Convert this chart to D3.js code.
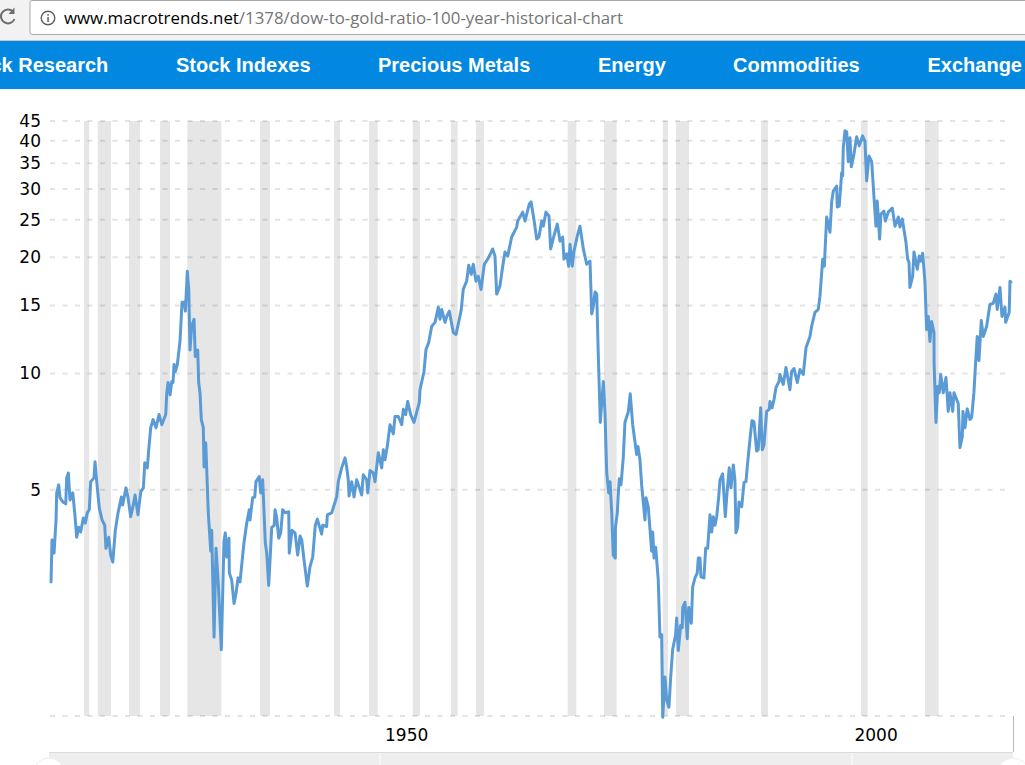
<!DOCTYPE html>
<html>
<head>
<meta charset="utf-8">
<title>Dow to Gold Ratio</title>
<script src="https://cdnjs.cloudflare.com/ajax/libs/d3/7.8.5/d3.min.js"></script>
<style>
  html, body { margin: 0; padding: 0; background: #fff; overflow: hidden; }
  svg { display: block; }
  .tick text { font-family: "DejaVu Sans", sans-serif; font-size: 17px; fill: #000; }
</style>
</head>
<body>
<div class="canva"></div>
<script>
// values
const years = [
  1915.04,1915.15,1915.25,1915.47,1915.68,1915.75,1915.96,1916.10,1916.42,1916.71,1916.81,1916.98,1917.16,1917.45,1917.66,1917.87,1918.08,1918.29,1918.57,1918.78,
  1918.99,1919.20,1919.35,1919.70,1919.81,1919.99,1920.26,1920.55,1920.84,1920.97,1921.26,1921.47,1921.69,1921.96,1922.25,1922.60,1922.74,1923.09,1923.31,1923.59,
  1923.80,1924.05,1924.36,1924.65,1924.93,1925.08,1925.35,1925.50,1925.71,1925.96,1926.27,1926.59,1926.88,1927.30,1927.41,1927.55,1927.76,1927.94,1928.07,1928.18,
  1928.32,1928.53,1928.81,1929.03,1929.27,1929.38,1929.59,1929.74,1929.87,1930.05,1930.30,1930.43,1930.69,1930.79,1930.93,1931.07,1931.28,1931.36,1931.54,1931.81,
  1932.07,1932.17,1932.42,1932.63,1932.87,1933.19,1933.47,1933.61,1933.76,1934.00,1934.04,1934.29,1934.54,1934.75,1934.96,1935.17,1935.59,1935.88,1936.15,1936.23,
  1936.51,1936.73,1936.86,1937.21,1937.36,1937.57,1937.85,1938.00,1938.21,1938.53,1938.80,1938.88,1939.06,1939.27,1939.48,1939.69,1939.97,1940.33,1940.39,1940.68,
  1941.00,1941.28,1941.53,1941.71,1941.95,1942.30,1942.58,1942.87,1943.15,1943.36,1943.82,1943.93,1944.35,1944.42,1944.88,1945.41,1945.58,1945.94,1946.29,1946.47,
  1946.64,1946.72,1947.00,1947.25,1947.53,1947.78,1948.06,1948.23,1948.59,1948.70,1948.94,1949.29,1949.47,1949.82,1950.18,1950.35,1950.53,1950.77,1951.06,1951.41,
  1951.59,1951.94,1952.30,1952.47,1952.72,1952.93,1953.25,1953.60,1954.16,1954.24,1954.66,1954.87,1955.16,1955.48,1955.83,1956.18,1956.36,1956.54,1956.89,1957.07,
  1957.34,1957.77,1958.05,1958.40,1958.61,1958.82,1959.18,1959.40,1959.67,1959.88,1960.17,1960.41,1960.70,1961.05,1961.41,1961.73,1961.94,1962.18,1962.36,1962.71,
  1963.00,1963.24,1963.53,1963.95,1964.48,1964.59,1965.12,1965.36,1965.82,1966.00,1966.35,1966.60,1966.84,1967.13,1967.30,1967.58,1967.90,1968.08,1968.36,1968.78,
  1969.07,1969.35,1969.49,1969.78,1969.99,1970.13,1970.37,1970.55,1970.90,1971.19,1971.54,1971.90,1972.25,1972.43,1972.60,1972.78,1972.96,1973.13,1973.34,1973.66,
  1973.83,1974.02,1974.23,1974.37,1974.55,1974.71,1974.93,1974.94,1975.14,1975.25,1975.35,1975.53,1975.77,1975.95,1976.30,1976.51,1976.77,1977.19,1977.33,1977.54,
  1977.72,1978.07,1978.18,1978.42,1978.78,1978.89,1979.03,1979.21,1979.48,1979.66,1979.84,1979.95,1980.19,1980.37,1980.61,1980.79,1981.00,1981.32,1981.43,1981.60,
  1981.85,1982.02,1982.07,1982.31,1982.55,1982.70,1982.98,1983.12,1983.37,1983.61,1983.72,1983.90,1984.00,1984.32,1984.50,1984.71,1984.96,1985.14,1985.31,1985.49,
  1985.67,1985.88,1986.02,1986.30,1986.58,1986.79,1987.00,1987.18,1987.43,1987.60,1987.71,1987.89,1988.03,1988.32,1988.56,1988.77,1988.95,1989.19,1989.41,1989.62,
  1989.90,1990.07,1990.33,1990.50,1990.68,1990.96,1991.24,1991.31,1991.53,1991.74,1991.95,1992.27,1992.37,1992.72,1993.01,1993.43,1993.61,1993.86,1994.21,1994.49,
  1994.84,1995.13,1995.55,1995.73,1996.08,1996.43,1996.61,1996.90,1997.07,1997.32,1997.67,1997.85,1998.02,1998.38,1998.44,1998.65,1998.91,1999.01,1999.08,1999.26,
  1999.44,1999.61,1999.79,1999.93,2000.21,2000.50,2000.77,2001.13,2001.38,2001.56,2001.80,2002.09,2002.36,2002.54,2002.68,2002.93,2003.07,2003.39,2003.53,2003.85,
  2004.27,2004.56,2004.91,2005.08,2005.33,2005.72,2005.90,2006.04,2006.14,2006.43,2006.57,2006.92,2007.13,2007.28,2007.49,2007.73,2007.91,2008.08,2008.26,2008.44,
  2008.69,2008.70,2008.90,2009.08,2009.25,2009.40,2009.67,2009.96,2010.20,2010.38,2010.67,2010.81,2011.26,2011.44,2011.69,2011.76,2011.97,2012.21,2012.50,2012.68,
  2012.92,2013.10,2013.27,2013.45,2013.70,2013.91,2014.27,2014.62,2014.97,2015.25,2015.39,2015.68,2015.89,2016.21,2016.28,2016.66,2016.74,2016.91
]

const ratios = [
  2.90,2.89,3.71,3.43,4.18,4.91,5.15,4.77,4.65,4.60,5.37,5.53,4.71,4.91,4.36,3.77,4.00,3.89,4.23,4.10,
  4.36,4.44,5.25,5.37,5.91,5.25,4.49,4.18,4.05,3.53,3.77,3.39,3.25,3.93,4.36,4.79,4.57,5.06,4.77,4.26,
  4.49,4.85,4.31,4.94,5.06,5.88,5.70,6.35,7.24,7.60,7.24,7.83,7.37,7.83,8.92,9.48,8.81,9.54,9.48,10.55,
  10.12,10.55,12.10,15.29,15.29,14.50,18.38,16.50,11.50,13.25,13.81,11.07,11.50,9.48,8.92,7.60,7.24,5.73,6.62,4.36,
  3.47,3.93,2.08,3.53,2.87,1.93,3.67,3.87,3.35,3.75,3.05,2.92,2.54,2.70,2.96,2.89,3.65,4.10,4.44,4.18,
  4.77,4.79,5.25,5.41,4.91,5.31,3.65,3.43,2.83,4.00,4.05,4.44,4.23,3.75,3.87,4.44,4.36,4.39,3.43,3.93,
  3.87,3.39,3.80,3.71,3.29,2.82,3.16,3.35,4.05,4.20,3.84,4.05,4.02,4.31,4.36,4.79,5.25,5.70,6.05,5.73,
  5.31,4.82,5.25,4.79,5.31,5.09,4.85,5.47,5.31,4.91,5.61,5.53,5.25,6.24,5.70,6.35,5.98,6.47,7.37,6.98,
  7.74,7.74,7.37,8.08,7.83,8.46,7.83,7.47,8.41,9.08,10.12,11.53,12.03,13.25,13.56,14.85,13.81,14.65,13.56,14.05,
  14.50,12.77,12.62,13.81,14.65,16.50,17.33,19.05,18.05,19.17,17.33,17.85,16.50,19.17,19.76,20.48,21.00,20.12,16.05,16.85,
  18.95,20.62,20.12,22.55,23.92,24.80,26.15,24.80,27.45,27.80,24.65,22.27,22.55,24.80,24.05,26.15,25.55,21.00,22.40,24.35,
  22.00,22.55,19.76,20.40,18.95,21.60,18.95,20.72,22.67,24.05,21.00,19.17,19.52,14.25,14.90,16.25,16.05,11.07,7.47,9.54,
  7.95,5.53,4.91,5.25,4.36,3.39,3.33,4.00,4.36,4.91,5.34,5.15,6.05,7.47,7.95,8.86,7.37,6.17,6.47,5.98,
  5.15,4.18,4.77,4.52,3.47,3.89,3.33,3.55,2.92,2.08,2.11,1.29,1.64,1.43,1.37,1.63,1.93,2.11,2.33,1.92,
  2.23,2.20,2.48,2.56,2.06,2.48,2.26,2.80,2.96,3.05,3.33,3.33,2.98,2.96,3.53,3.53,4.31,3.89,4.26,4.05,
  4.26,4.79,5.31,5.50,4.26,5.00,5.70,5.06,5.80,5.31,3.87,4.00,4.65,4.52,5.22,5.25,5.88,6.74,7.55,7.50,
  6.30,6.35,8.15,6.35,6.53,7.98,8.08,8.46,8.15,8.56,9.20,9.54,9.94,9.37,10.36,9.08,10.12,10.30,9.48,10.24,
  9.94,11.65,12.47,13.25,14.40,14.65,15.85,19.76,18.95,25.40,23.20,27.80,29.65,30.55,26.95,27.10,33.05,32.45,38.35,42.45,
  42.20,35.30,40.70,34.25,36.95,40.95,38.80,41.20,39.75,31.50,36.55,35.30,27.94,24.05,27.94,22.27,25.85,26.30,24.80,26.15,
  26.80,24.05,25.40,23.92,25.10,21.85,19.76,19.40,16.70,17.85,20.62,18.60,20.12,19.52,20.48,17.25,12.99,14.05,12.10,13.63,
  12.77,10.67,7.47,9.26,8.92,9.94,8.92,9.76,7.98,8.92,7.98,8.92,8.36,6.43,6.86,7.98,7.24,8.10,7.60,7.70,
  8.92,10.67,12.47,10.80,13.72,12.47,13.25,15.10,15.20,16.05,14.65,16.70,14.05,14.85,13.56,14.40,17.33,17.10
]

const recessionStart = [1918.64,1920.10,1923.41,1926.69,1929.59,1937.29,1945.13,1948.83,1953.46,1957.52,1960.17,1969.88,1973.73,1979.95,1981.36,1990.36,2000.95,2007.73]
const recessionEnd   = [1919.20,1921.50,1924.58,1927.75,1933.19,1938.35,1945.76,1949.76,1954.24,1958.23,1961.02,1970.80,1975.07,1980.51,1982.73,1991.10,2001.66,2009.18]

const yTicks = [45, 40, 35, 30, 25, 20, 15, 10, 5]
const xTicks = [1950, 2000]
const navLabels = ["Stock Research", "Stock Indexes", "Precious Metals", "Energy", "Commodities", "Exchange Rates"]
const navLeft = [-41.8, 176, 378, 598, 733, 927.5]
const urlHost = "www.macrotrends.net"
const urlPath = "/1378/dow-to-gold-ratio-100-year-historical-chart"

const width = 1025, height = 765

const svg = d3.select(".canva").append("svg")
    .attr("width", width)
    .attr("height", height)

// browser bar
svg.append("rect").attr("width", width).attr("height", 41).attr("fill", "#f2f2f2")
svg.append("rect").attr("x", 30).attr("y", 0.5).attr("width", 1100).attr("height", 34)
    .attr("rx", 2).attr("fill", "#fff").attr("stroke", "#a9a9a9")
svg.append("line").attr("x1", 0).attr("x2", width).attr("y1", 40.5).attr("y2", 40.5).attr("stroke", "#c4c4c4")

// reload icon, cut by the window edge
svg.append("path").attr("d", "M13 11.5 A7 7 0 1 0 14.5 19")
    .attr("fill", "none").attr("stroke", "#6e6e6e").attr("stroke-width", 2)
svg.append("path").attr("d", "M14.5 7.5 V14 H8.5 Z").attr("fill", "#6e6e6e")

// info icon
svg.append("circle").attr("cx", 48).attr("cy", 18).attr("r", 6.8)
    .attr("fill", "none").attr("stroke", "#5f5f5f").attr("stroke-width", 1.4)
svg.append("rect").attr("x", 47.3).attr("y", 17).attr("width", 1.5).attr("height", 5).attr("fill", "#5f5f5f")
svg.append("rect").attr("x", 47.3).attr("y", 14).attr("width", 1.5).attr("height", 1.6).attr("fill", "#5f5f5f")

const url = svg.append("text")
    .attr("x", 64).attr("y", 24)
    .attr("font-family", "'Open Sans', sans-serif")
    .attr("font-size", 16)
    .attr("textLength", 559)
    .attr("lengthAdjust", "spacingAndGlyphs")
url.append("tspan").attr("fill", "#000").text(urlHost)
url.append("tspan").attr("fill", "#757575").text(urlPath)

// nav bar
svg.append("rect").attr("y", 41).attr("width", width).attr("height", 48).attr("fill", "#0288e0")
svg.selectAll(".nav")
    .data(navLabels)
    .enter().append("text")
    .attr("class", "nav")
    .attr("x", (d, i) => navLeft[i])
    .attr("y", 72)
    .attr("font-family", "'Liberation Sans', Arial, sans-serif")
    .attr("font-weight", "bold")
    .attr("font-size", 20)
    .attr("fill", "#fff")
    .text(d => d)

// scales
const x = d3.scaleLinear().domain([1915.04, 2017.06]).range([50, 1013])
const y = d3.scaleLog().domain([1.3, 45]).range([716, 121])

// recession bands
svg.selectAll(".band")
    .data(recessionStart)
    .enter().append("rect")
    .attr("class", "band")
    .attr("x", d => x(d))
    .attr("width", (d, i) => x(recessionEnd[i]) - x(d))
    .attr("y", y(45))
    .attr("height", y(1.3) - y(45))
    .attr("fill", "#e6e6e6")

// grid lines
svg.selectAll(".grid")
    .data(yTicks.concat([1.3]))
    .enter().append("line")
    .attr("class", "grid")
    .attr("x1", x(1915.04))
    .attr("x2", 1008)
    .attr("y1", d => y(d))
    .attr("y2", d => y(d))
    .attr("stroke", "#000")
    .attr("stroke-opacity", 0.11)
    .attr("stroke-width", 2)
    .attr("stroke-dasharray", "5 7.5")

// y axis
const yAxis = svg.append("g")
    .attr("transform", "translate(50,0)")
    .call(d3.axisLeft(y).tickValues(yTicks).tickFormat(d3.format("d")).tickSize(0).tickPadding(9))
yAxis.select(".domain").remove()

// ratio line
const line = d3.line()
    .x(d => x(d))
    .y((d, i) => y(ratios[i]))

svg.append("path")
    .attr("d", line(years))
    .attr("fill", "none")
    .attr("stroke", "#5b9bd5")
    .attr("stroke-width", 3)
    .attr("stroke-linejoin", "round")

// right edge of the plot
svg.append("line")
    .attr("x1", 1013.5).attr("x2", 1013.5).attr("y1", 716).attr("y2", 752)
    .attr("stroke", "#b8b8b8")

// range strip under the axis
svg.append("rect").attr("x", 49).attr("y", 752).attr("width", 964).attr("height", 13).attr("fill", "#eeeeee")
svg.append("line").attr("x1", 49).attr("x2", 1013).attr("y1", 752.5).attr("y2", 752.5).attr("stroke", "#dcdcdc")
svg.selectAll(".stripTick")
    .data(xTicks)
    .enter().append("line")
    .attr("class", "stripTick")
    .attr("x1", d => x(d)).attr("x2", d => x(d))
    .attr("y1", 753).attr("y2", 765)
    .attr("stroke", "#fff")
svg.selectAll(".handle")
    .data([49, 1013])
    .enter().append("circle")
    .attr("class", "handle")
    .attr("cx", d => d).attr("cy", 774).attr("r", 16)
    .attr("fill", "#fff").attr("stroke", "#eeeeee")

// x axis, labels sit to the right of the tick
const xAxis = svg.append("g")
    .attr("transform", "translate(0,716)")
    .call(d3.axisBottom(x).tickValues(xTicks).tickFormat(d3.format("d")).tickSize(0).tickPadding(13))
xAxis.select(".domain").remove()
xAxis.selectAll("text").attr("text-anchor", "start").attr("dx", d => d === 1950 ? 4.5 : 2)
</script>
</body>
</html>
